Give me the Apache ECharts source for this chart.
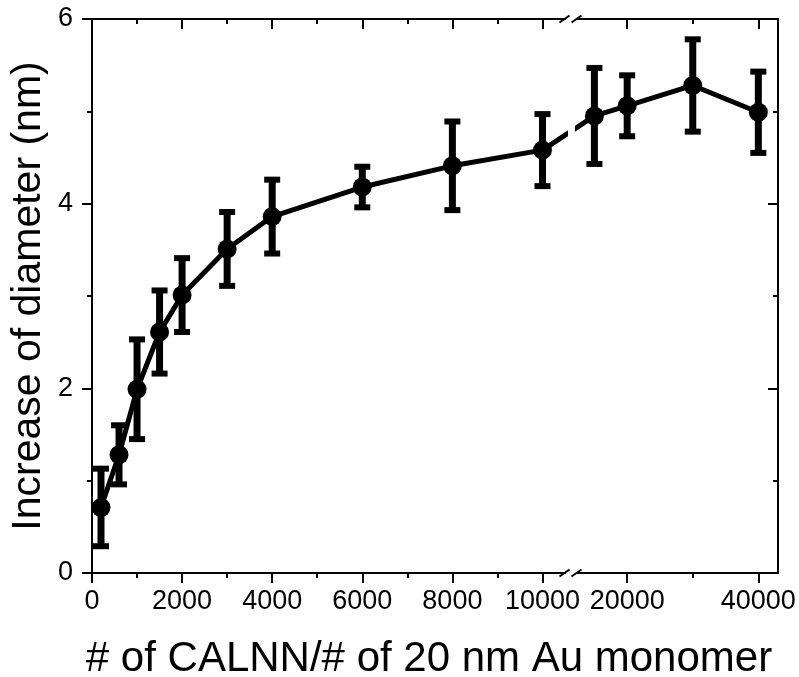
<!DOCTYPE html>
<html>
<head>
<meta charset="utf-8">
<script src="https://cdn.jsdelivr.net/npm/echarts@6/dist/echarts.min.js"></script>
<style>html,body{margin:0;padding:0;background:#fff}#c{width:799px;height:677px}</style>
</head>
<body>
<div id="c"></div>
<script>
// ---- data ----
var xLeft = [200, 600, 1000, 1500, 2000, 3000, 4000, 6000, 8000, 10000];
var yLeft = [0.71, 1.28, 1.99, 2.61, 3.01, 3.51, 3.86, 4.18, 4.41, 4.58];
var eLeft = [0.42, 0.32, 0.54, 0.45, 0.40, 0.40, 0.40, 0.22, 0.48, 0.39];
var xRight = [15000, 20000, 30000, 40000];
var yRight = [4.95, 5.06, 5.28, 4.99];
var eRight = [0.52, 0.33, 0.50, 0.44];
var leftMajorTicks = [0, 2000, 4000, 6000, 8000, 10000];
var leftMinorTicks = [1000, 3000, 5000, 7000, 9000];
var rightMajorTicks = [20000, 40000];
var rightMinorTicks = [30000];
var xTitle = '# of CALNN/# of 20 nm Au monomer';
var yTitle = 'Increase of diameter (nm)';

// ---- layout ----
var FONT = "'Liberation Sans', Arial, Helvetica, sans-serif";
var G0 = {left: 92, top: 19, width: 473, height: 554};
var G1 = {left: 578, top: 19, width: 200, height: 554};
var LW = 2;

function pts(xs, ys) { return xs.map(function (x, i) { return [x, ys[i]]; }); }
function errPts(xs, ys, es) { return xs.map(function (x, i) { return [x, ys[i], es[i]]; }); }
function plain(v) { return String(v); }

function xAx(grid, pos, min, max, ticks, len, inside, labels) {
  return {
    type: 'value', gridIndex: grid, position: pos, min: min, max: max,
    axisLine: {show: true, onZero: false, lineStyle: {color: '#000', width: LW}},
    axisTick: {show: true, inside: inside, length: len, customValues: ticks, lineStyle: {color: '#000', width: LW}},
    axisLabel: labels ? {show: true, customValues: ticks, formatter: plain, fontSize: 27, fontFamily: FONT, color: '#000', margin: 15} : {show: false},
    splitLine: {show: false}
  };
}

function errRender(params, api) {
  var x = api.value(0), y = api.value(1), e = api.value(2);
  var top = api.coord([x, y + e]);
  var bot = api.coord([x, y - e]);
  var stemW = 7, capW = 16, capH = 6;
  return {
    type: 'group',
    children: [
      {type: 'rect', shape: {x: top[0] - stemW / 2, y: top[1], width: stemW, height: bot[1] - top[1]}, style: {fill: '#000'}},
      {type: 'rect', shape: {x: top[0] - capW / 2, y: top[1] - capH / 2, width: capW, height: capH}, style: {fill: '#000'}},
      {type: 'rect', shape: {x: bot[0] - capW / 2, y: bot[1] - capH / 2, width: capW, height: capH}, style: {fill: '#000'}}
    ]
  };
}

var chart = echarts.init(document.getElementById('c'), null, {renderer: 'canvas'});

var yAxisCommon = {
  type: 'value', min: 0, max: 6, interval: 2,
  axisLine: {show: true, onZero: false, lineStyle: {color: '#000', width: LW}},
  splitLine: {show: false},
  minorTick: {show: true, splitNumber: 2, length: 5, lineStyle: {color: '#000', width: LW}},
  minorSplitLine: {show: false}
};

var option = {
  animation: false,
  backgroundColor: '#fff',
  grid: [
    {left: G0.left, top: G0.top, width: G0.width, height: G0.height, containLabel: false},
    {left: G1.left, top: G1.top, width: G1.width, height: G1.height, containLabel: false}
  ],
  xAxis: [
    xAx(0, 'bottom', 0, 10500, leftMajorTicks, 10, false, true),
    xAx(0, 'bottom', 0, 10500, leftMinorTicks, 5, false, false),
    xAx(0, 'top', 0, 10500, leftMajorTicks, 10, true, false),
    xAx(0, 'top', 0, 10500, leftMinorTicks, 5, true, false),
    xAx(1, 'bottom', 12500, 43000, rightMajorTicks, 10, false, true),
    xAx(1, 'bottom', 12500, 43000, rightMinorTicks, 5, false, false),
    xAx(1, 'top', 12500, 43000, rightMajorTicks, 10, true, false),
    xAx(1, 'top', 12500, 43000, rightMinorTicks, 5, true, false)
  ],
  yAxis: [
    Object.assign({}, yAxisCommon, {
      gridIndex: 0, position: 'left',
      axisTick: {show: true, inside: false, length: 10, lineStyle: {color: '#000', width: LW}},
      axisLabel: {show: true, formatter: plain, fontSize: 27, fontFamily: FONT, color: '#000', margin: 19}
    }),
    Object.assign({}, yAxisCommon, {
      gridIndex: 1, position: 'right',
      axisTick: {show: true, inside: true, length: 10, lineStyle: {color: '#000', width: LW}},
      axisLabel: {show: false}
    })
  ],
  series: [
    {type: 'line', xAxisIndex: 0, yAxisIndex: 0, data: pts(xLeft, yLeft), showSymbol: false, symbol: 'none', clip: true,
      lineStyle: {color: '#000', width: 5}, z: 2},
    {type: 'line', xAxisIndex: 4, yAxisIndex: 1, data: pts(xRight, yRight), showSymbol: false, symbol: 'none', clip: true,
      lineStyle: {color: '#000', width: 5}, z: 2},
    {type: 'custom', xAxisIndex: 0, yAxisIndex: 0, data: errPts(xLeft, yLeft, eLeft), renderItem: errRender,
      encode: {x: 0, y: 1}, clip: false, z: 3},
    {type: 'custom', xAxisIndex: 4, yAxisIndex: 1, data: errPts(xRight, yRight, eRight), renderItem: errRender,
      encode: {x: 0, y: 1}, clip: false, z: 3},
    {type: 'scatter', xAxisIndex: 0, yAxisIndex: 0, data: pts(xLeft, yLeft), symbol: 'circle', symbolSize: 19,
      itemStyle: {color: '#000', opacity: 1}, z: 4},
    {type: 'scatter', xAxisIndex: 4, yAxisIndex: 1, data: pts(xRight, yRight), symbol: 'circle', symbolSize: 19,
      itemStyle: {color: '#000', opacity: 1}, z: 4}
  ]
};
chart.setOption(option);

// bridge the line across the axis break through the library's conversions
var lastL = [xLeft[xLeft.length - 1], yLeft[yLeft.length - 1]];
var firstR = [xRight[0], yRight[0]];
var firstRpx = chart.convertToPixel({seriesIndex: 1}, firstR);
var lastLpx = chart.convertToPixel({seriesIndex: 0}, lastL);
var firstRinL = chart.convertFromPixel({seriesIndex: 0}, firstRpx);
var lastLinR = chart.convertFromPixel({seriesIndex: 1}, lastLpx);

var bY0 = G0.top + G0.height, bY1 = G0.top;
var s1 = G0.left + G0.width - 0.5, s2 = G1.left - 1.5;
function slash(cx, cy) {
  return {type: 'line', shape: {x1: cx - 5, y1: cy + 3.5, x2: cx + 5, y2: cy - 3.5},
    style: {stroke: '#000', lineWidth: LW}, z: 10};
}

chart.setOption({
  series: [
    {data: pts(xLeft, yLeft).concat([firstRinL])},
    {data: [lastLinR].concat(pts(xRight, yRight))}
  ],
  graphic: [
    slash(s1, bY0), slash(s2, bY0), slash(s1, bY1), slash(s2, bY1),
    {type: 'text', x: 429, y: 659, style: {text: xTitle, font: '42px ' + FONT, fill: '#000', textAlign: 'center', textVerticalAlign: 'middle'}},
    {type: 'text', x: 29, y: 296, rotation: Math.PI / 2, style: {text: yTitle, font: '41px ' + FONT, fill: '#000', textAlign: 'center', textVerticalAlign: 'middle'}}
  ]
});
</script>
</body>
</html>
